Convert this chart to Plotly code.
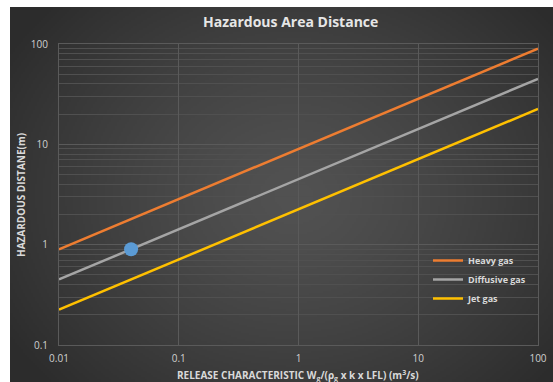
import base64, struct, zlib
import numpy as np
import plotly.graph_objects as go

# ---- data ----
release = [0.01, 100]
heavy_gas = [0.9, 90]
diffusive_gas = [0.45, 45]
jet_gas = [0.225, 22.5]
point_x = [0.04]
point_y = [0.9]
x_tickvals = [0.01, 0.1, 1, 10, 100]
x_ticktext = ["0.01", "0.1", "1", "10", "100"]
y_tickvals = [0.1, 1, 10, 100]
y_ticktext = ["0.1", "1", "10", "100"]

# ---- gradient background image ----
def make_png(arr):
    h, w, _ = arr.shape
    raw = b"".join(b"\x00" + arr[i].tobytes() for i in range(h))
    def chunk(t, d):
        c = struct.pack(">I", len(d)) + t + d
        return c + struct.pack(">I", zlib.crc32(t + d) & 0xffffffff)
    png = b"\x89PNG\r\n\x1a\n"
    png += chunk(b"IHDR", struct.pack(">IIBBBBB", w, h, 8, 2, 0, 0, 0))
    png += chunk(b"IDAT", zlib.compress(raw, 9))
    png += chunk(b"IEND", b"")
    return "data:image/png;base64," + base64.b64encode(png).decode()

W, H = 272, 188
yy, xx = np.mgrid[0:H, 0:W]
cx, cy = W * 0.52, H * 0.5
d = np.sqrt(((xx - cx) / (W * 0.62)) ** 2 + ((yy - cy) / (H * 0.75)) ** 2)
d = np.clip(d, 0, 1)
inner, outer = 82.0, 44.0
v = inner + (outer - inner) * d ** 1.3
img = np.stack([v, v, v], axis=-1).astype(np.uint8)
src = make_png(img)

# plot area in px: x 59..538, y 44..345
PL, PR, PT, PB = 59, 538, 44, 345
pw, ph = PR - PL, PB - PT
def px(x): return (x - PL) / pw
def py(y): return (PB - y) / ph

fig = go.Figure()
fig.add_trace(go.Scatter(x=release, y=heavy_gas, mode="lines", name="<b>Heavy gas</b>",
                         line=dict(color="#ed7d31", width=2.5)))
fig.add_trace(go.Scatter(x=release, y=diffusive_gas, mode="lines", name="<b>Diffusive gas</b>",
                         line=dict(color="#a5a5a5", width=2.5)))
fig.add_trace(go.Scatter(x=release, y=jet_gas, mode="lines", name="<b>Jet gas</b>",
                         line=dict(color="#ffc000", width=2.5)))
fig.add_trace(go.Scatter(x=point_x, y=point_y, mode="markers", showlegend=False,
                         marker=dict(color="#5b9bd5", size=14)))

fig.add_layout_image(dict(source=src, xref="paper", yref="paper",
                          x=px(10), y=py(7), sizex=px(553) - px(10), sizey=py(7) - py(382),
                          xanchor="left", yanchor="top", sizing="stretch", layer="below"))

fig.update_layout(
    width=553, height=382,
    margin=dict(l=PL, r=553 - PR, t=PT, b=382 - PB, autoexpand=False),
    paper_bgcolor="white", plot_bgcolor="rgba(0,0,0,0)",
    font=dict(family="Open Sans, sans-serif", color="#d9d9d9", size=10),
    showlegend=True,
    legend=dict(x=px(428), y=py(246), xanchor="left", yanchor="top",
                bgcolor="rgba(0,0,0,0)", font=dict(size=9, color="#d9d9d9", family="Open Sans, sans-serif"),
                itemwidth=30, tracegroupgap=2),
)
fig.update_xaxes(type="log", range=[-2, 2], tickvals=x_tickvals, ticktext=x_ticktext,
                 showgrid=True, gridcolor="#5a5a5a", gridwidth=1, automargin=False,
                 showline=True, linecolor="#5a5a5a", mirror=True, zeroline=False,
                 ticks="", tickfont=dict(size=10, color="#d0d0d0"), ticklabelstandoff=4)
fig.update_yaxes(type="log", range=[-1, 2], tickvals=y_tickvals, ticktext=y_ticktext,
                 showgrid=True, gridcolor="#5a5a5a", gridwidth=1, automargin=False,
                 minor=dict(showgrid=True, gridcolor="#505050", dtick="D1", gridwidth=1),
                 showline=True, linecolor="#5a5a5a", mirror=True, zeroline=False,
                 ticks="", tickfont=dict(size=10, color="#d0d0d0"), ticklabelstandoff=8)

fig.add_annotation(text="<b>Hazardous Area Distance</b>", xref="paper", yref="paper",
                   x=px(290), y=py(21), xanchor="center", yanchor="middle", showarrow=False,
                   font=dict(size=14, color="#e6e6e6", family="Open Sans, sans-serif"))
fig.add_annotation(text="<b>RELEASE CHARACTERISTIC W<sub>g</sub>/(ρ<sub>g</sub> x k x LFL) (m<sup>3</sup>/s)</b>",
                   xref="paper", yref="paper", x=px(298), y=py(375), xanchor="center", yanchor="middle",
                   showarrow=False, font=dict(size=10, color="#d9d9d9", family="Open Sans, sans-serif"))
fig.add_annotation(text="<b>HAZARDOUS DISTANE(m)</b>", xref="paper", yref="paper",
                   x=px(21), y=py(195), xanchor="center", yanchor="middle", textangle=-90,
                   showarrow=False, font=dict(size=10, color="#d9d9d9", family="Open Sans, sans-serif"))

fig.write_html("out.html")
